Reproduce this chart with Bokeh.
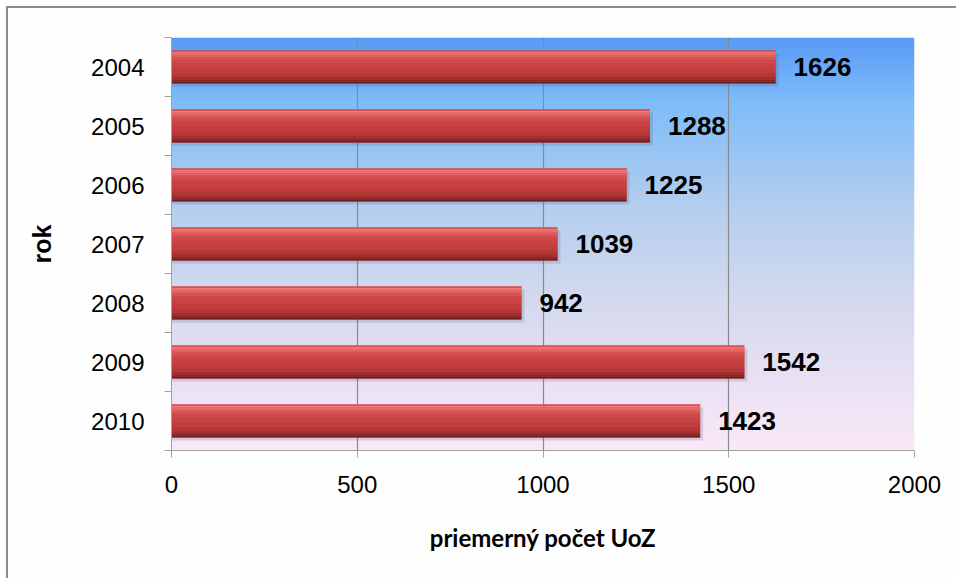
import numpy as np
from bokeh.plotting import figure
from bokeh.models import Range1d, FixedTicker, ColumnDataSource
from bokeh.core.properties import value
from bokeh.embed import file_html
from bokeh.resources import INLINE

years = ["2004", "2005", "2006", "2007", "2008", "2009", "2010"]
counts = [1626, 1288, 1225, 1039, 942, 1542, 1423]
x_ticks = [0, 500, 1000, 1500, 2000]
x_title = "priemerný počet UoZ"
y_title = "rok"

n = len(years)
ypos = [n - 1 - i for i in range(n)]

p = figure(width=950, height=572, output_backend="svg", toolbar_location=None,
           x_range=Range1d(0, 2000), y_range=Range1d(-0.5, n - 0.5),
           min_border_left=163, min_border_right=44, min_border_top=29, min_border_bottom=130)
p.styles = {"border-left": "2px solid #8c8c8c", "border-top": "2px solid #8c8c8c",
            "margin-left": "6px", "margin-top": "6px"}
p.background_fill_color = "#fefefe"
p.border_fill_color = "#fefefe"
p.outline_line_color = None

# background gradient (bottom -> top)
stops = [(0.0, (250, 232, 248)), (0.2, (230, 224, 243)), (0.4, (208, 216, 238)),
         (0.6, (178, 206, 238)), (0.85, (125, 188, 250)), (1.0, (90, 155, 245))]
N = 200
img = np.zeros((N, 1), dtype=np.uint32)
view = img.view(dtype=np.uint8).reshape((N, 1, 4))
ts = np.linspace(0, 1, N)
sp = [s[0] for s in stops]
for c in range(3):
    view[:, 0, c] = np.interp(ts, sp, [s[1][c] for s in stops]).astype(np.uint8)
view[:, 0, 3] = 255
p.image_rgba(image=[img], x=0, y=-0.5, dw=2000, dh=n, level="image")

src = ColumnDataSource(dict(y=ypos, v=counts, lab=[str(c) for c in counts]))
H = 0.56
# shadow
p.hbar(y=[y - 0.05 for y in ypos], left=0, right=[c + 8 for c in counts], height=H,
       fill_color="#5a4a70", fill_alpha=0.18, line_color=None)
p.hbar(y="y", left=0, right="v", height=H, source=src, fill_color="#c23c3c", line_color=None)
strips = [(0.0, 0.04, "#dc4a4a"), (0.04, 0.10, "#f07a7a"), (0.10, 0.16, "#ea6e6e"),
          (0.16, 0.22, "#e06060"), (0.22, 0.30, "#d65252"), (0.30, 0.40, "#ce4848"),
          (0.40, 0.55, "#c84242"), (0.55, 0.70, "#c23c3c"), (0.70, 0.80, "#b53636"),
          (0.80, 0.88, "#a23030"), (0.88, 0.94, "#862828"), (0.94, 1.0, "#6e2020")]
for a, b, col in strips:
    mid = H / 2 - (a + b) / 2 * H
    p.hbar(y=[y + mid for y in ypos], left=0, right=counts, height=(b - a) * H * 1.02,
           fill_color=col, line_color=None)

p.text(x="v", y="y", text="lab", source=src, x_offset=18, text_baseline="middle",
       text_align="left", text_font=value("Liberation Sans"), text_font_style="bold",
       text_font_size="26px", text_color="#000000")

# axes
p.xaxis.ticker = FixedTicker(ticks=x_ticks)
p.xaxis.axis_line_color = "#a0a0a0"
p.xaxis.major_tick_line_color = "#a0a0a0"
p.xaxis.major_tick_out = 7
p.xaxis.major_tick_in = 0
p.xaxis.minor_tick_line_color = None
p.xaxis.major_label_text_font = "Liberation Sans"
p.xaxis.major_label_text_font_size = "24px"
p.xaxis.major_label_text_color = "#000000"
p.xaxis.major_label_standoff = 18
p.xaxis.axis_label = x_title
p.xaxis.axis_label_text_font = "Lato"
p.xaxis.axis_label_text_font_style = "bold"
p.xaxis.axis_label_text_font_size = "24px"
p.xaxis.axis_label_text_color = "#000000"
p.xaxis.axis_label_standoff = 27

p.yaxis.ticker = FixedTicker(ticks=ypos, minor_ticks=[k - 0.5 for k in range(n + 1)])
p.yaxis.major_label_overrides = {y: years[i] for i, y in enumerate(ypos)}
p.yaxis.axis_line_color = "#a0a0a0"
p.yaxis.major_tick_line_color = None
p.yaxis.major_tick_out = 0
p.yaxis.major_tick_in = 0
p.yaxis.minor_tick_line_color = "#a0a0a0"
p.yaxis.minor_tick_out = 7
p.yaxis.minor_tick_in = 0
p.yaxis.major_label_text_font = "Liberation Sans"
p.yaxis.major_label_text_font_size = "24px"
p.yaxis.major_label_text_color = "#000000"
p.yaxis.major_label_standoff = 20
p.yaxis.axis_label = y_title
p.yaxis.axis_label_text_font = "Liberation Sans"
p.yaxis.axis_label_text_font_style = "bold"
p.yaxis.axis_label_text_font_size = "25px"
p.yaxis.axis_label_text_color = "#000000"
p.yaxis.axis_label_standoff = 32

p.xgrid.ticker = FixedTicker(ticks=x_ticks)
p.xgrid.grid_line_color = "#8a8a8a"
p.xgrid.grid_line_width = 1.2
p.xgrid.level = "underlay"
p.ygrid.grid_line_color = None

open("out.html", "w").write(file_html(p, INLINE))
